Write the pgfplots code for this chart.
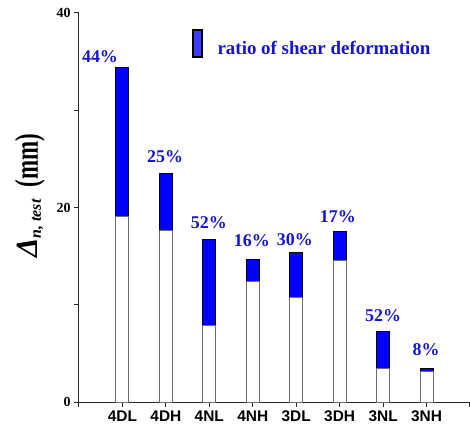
\documentclass[border=0pt]{standalone}
\usepackage{graphicx}
\usepackage{pgfplots}
\pgfplotsset{compat=1.18}
\usepackage{fontspec}
\setmainfont{Liberation Serif}
\newfontfamily\arialfont{Liberation Sans}
\definecolor{barblue}{RGB}{0,0,255}
\definecolor{txtblue}{RGB}{20,20,210}
\definecolor{legblue}{RGB}{60,60,255}
\tikzset{pct/.style={font=\bfseries\fontsize{18}{18}\selectfont, text=txtblue, anchor=base, inner sep=0pt}}
\begin{document}
\begin{tikzpicture}
\path[use as bounding box] (-79bp,-31bp) rectangle (391bp,402bp);
\begin{axis}[
  scale only axis, width=391bp, height=389bp,
  xmin=0, xmax=9, ymin=0, ymax=40,
  axis x line=bottom, axis y line=left,
  axis line style={-, black!85, line width=1bp},
  ybar stacked, bar width=13bp,
  xtick={0,...,9}, xticklabels={,4DL,4DH,4NL,4NH,3DL,3DH,3NL,3NH,},
  ytick={0,20,40}, minor ytick={10,30},
  tick align=outside, major tick length=5bp, minor tick length=5bp,
  tick style={black!85, line width=1bp},
  xticklabel style={font=\arialfont\bfseries\fontsize{15.5}{15.5}\selectfont},
  yticklabel style={font=\bfseries\fontsize{14}{14}\selectfont},
  /pgf/number format/assume math mode=true,
  clip=false,
  ylabel={{\fontsize{31}{31}\selectfont\bfseries\itshape Δ}{\fontsize{16}{16}\selectfont\bfseries\itshape\raisebox{-3bp}{n, test}}\hspace{12bp}{\fontsize{23}{23}\selectfont\bfseries\scalebox{1}[1.45]{(mm)}}},
  ylabel style={at={(rel axis cs:-0.1049,0.53)}, anchor=base, inner sep=0pt},
  legend style={draw=none, fill=none, at={(rel axis cs:0.290,0.958)}, anchor=north west,
    inner sep=0pt, outer sep=0pt, font=\bfseries\fontsize{19}{19}\selectfont,
    text=txtblue, column sep=15bp, nodes={inner sep=0pt}},
  legend image code/.code={\draw[fill=legblue,draw=black,line width=1.2bp] (0bp,-8bp) rectangle (9bp,19bp);},
  legend entries={,ratio of shear deformation},
]
\addplot[fill=white, draw=gray!85!black, line width=1bp] coordinates {
(1,19.1) (2,17.6) (3,7.9) (4,12.4) (5,10.7) (6,14.6) (7,3.4) (8,3.1)};
\addplot[fill=barblue, draw=black, line width=1bp] coordinates {
(1,15.3) (2,5.9) (3,8.8) (4,2.3) (5,4.65) (6,2.9) (7,3.8) (8,0.3)};
\node[pct] at (axis cs:0.483,34.86) {44\%};
\node[pct] at (axis cs:1.98,24.58) {25\%};
\node[pct] at (axis cs:2.99,17.89) {52\%};
\node[pct] at (axis cs:3.98,16.04) {16\%};
\node[pct] at (axis cs:4.97,16.14) {30\%};
\node[pct] at (axis cs:5.96,18.41) {17\%};
\node[pct] at (axis cs:7.0,8.23) {52\%};
\node[pct] at (axis cs:7.99,4.83) {8\%};
\end{axis}
\end{tikzpicture}
\end{document}
